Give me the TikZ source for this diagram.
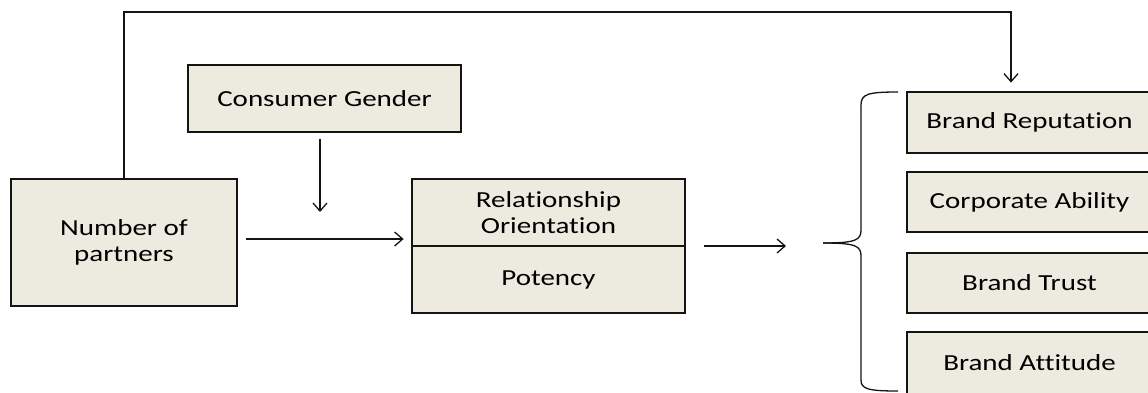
\documentclass[tikz,border=0pt]{standalone}
\usepackage{fontspec}
\setmainfont{Carlito}[FakeStretch=1.26, Ligatures={NoCommon}]
\usetikzlibrary{arrows.meta}
\definecolor{boxfill}{RGB}{237,235,224}
\definecolor{ink}{RGB}{20,20,20}
\tikzset{
  box/.style={draw=ink, fill=boxfill, line width=2.8pt, align=center, inner sep=0pt,
    font=\fontsize{23}{26}\selectfont},
  arr/.style={draw=ink, line width=1.3pt, -{Straight Barb[length=8pt,width=14pt,line width=1.3pt]}},
  bracepath/.style={draw=ink, line width=1.3pt},
}
\begin{document}
\begin{tikzpicture}[x=1pt,y=-1pt]
\useasboundingbox (0,0) rectangle (1148,392);
\clip (0,0) rectangle (1148,392);

\node[box, minimum width=226pt, minimum height=127pt] (nop) at (124,242.5) {Number of\\partners};
\node[box, minimum width=273pt, minimum height=67pt] (cg) at (324.5,98.5) {Consumer Gender};
\node[box, minimum width=273pt, minimum height=67pt] (rel) at (548.5,212.5) {Relationship\\Orientation};
\node[box, minimum width=273pt, minimum height=67pt] (pot) at (548.5,279.5) {Potency};

\node[box, minimum width=245pt, minimum height=61pt] (rep) at (1029.5,122.5) {Brand Reputation};
\node[box, minimum width=245pt, minimum height=60pt] (abi) at (1029.5,202) {Corporate Ability};
\node[box, minimum width=245pt, minimum height=60pt] (tru) at (1029.5,283) {Brand Trust};
\node[box, minimum width=245pt, minimum height=62pt] (att) at (1029.5,363) {Brand Attitude};

% connectors
\coordinate (topR) at (1011,12);
\draw[arr, shorten >=8pt] (nop.north) |- (topR) -- (topR |- rep.north);

\coordinate (modtip) at (320,212);
\draw[arr, shorten <=6pt] (cg.south -| modtip) -- (modtip);

\coordinate (h) at (0,239);
\draw[arr, shorten <=8pt, shorten >=7pt] (nop.east |- h) -- (rel.west |- h);

\coordinate (rtip) at (786,246);
\draw[arr, shorten <=18pt] (rel.east |- rtip) -- (rtip);

% brace
\draw[bracepath] (898,92) .. controls (868,92) and (861,94) .. (861,105) -- (861,230)
  .. controls (861,240) and (856,243) .. (823,243);
\draw[bracepath] (823,243) .. controls (856,243) and (861,246) .. (861,256) -- (861,380)
  .. controls (861,389) and (868,391) .. (898,391);
\end{tikzpicture}
\end{document}
